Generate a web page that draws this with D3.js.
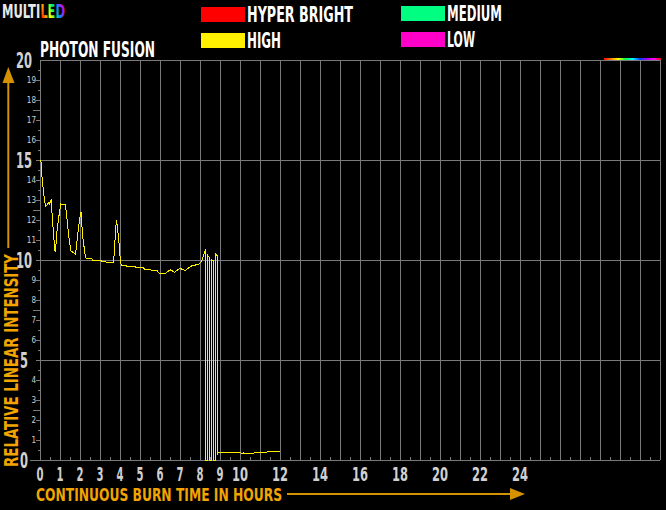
<!DOCTYPE html>
<html><head><meta charset="utf-8">
<script src="https://cdn.jsdelivr.net/npm/d3@7"></script>
<style>body{margin:0;background:#000;}svg{display:block;}</style>
</head><body>
<script>
// ---- data ----
const hours = [0.00,0.03,0.05,0.10,0.15,0.20,0.25,0.32,0.40,0.45,0.50,0.53,0.55,0.60,0.65,0.70,0.73,0.77,0.82,0.88,0.95,1.02,1.15,1.25,1.30,1.38,1.45,1.53,1.60,1.75,1.82,1.90,1.95,2.03,2.07,2.13,2.20,2.25,2.30,2.55,2.60,3.00,3.05,3.25,3.30,3.65,3.70,3.75,3.80,3.85,3.95,4.00,4.05,4.25,4.35,4.75,4.80,5.15,5.20,5.50,5.55,5.85,5.90,6.25,6.35,6.50,6.60,6.70,6.85,7.00,7.10,7.25,7.40,7.55,7.75,7.95,8.08,8.15,8.22,8.25,
  8.25,8.35,8.35,8.45,8.45,8.55,8.55,8.65,8.65,8.75,8.75,8.85,8.85,8.90,9.00,10.00,10.05,10.15,10.65,10.70,11.30,11.35,11.95];
const intensity = [15.0,14.9,14.4,13.9,13.4,13.0,12.7,12.75,12.85,12.8,12.95,13.0,12.7,12.0,11.35,10.7,10.4,10.7,11.4,11.9,12.4,12.8,12.78,12.75,12.3,11.5,10.9,10.45,10.4,10.3,10.9,11.6,12.0,12.4,11.7,11.0,10.5,10.15,10.08,10.08,10.0,10.0,9.95,9.95,9.88,9.88,10.5,11.5,12.0,11.6,10.6,9.85,9.75,9.72,9.68,9.65,9.62,9.6,9.55,9.55,9.48,9.45,9.35,9.33,9.42,9.5,9.45,9.38,9.5,9.58,9.52,9.48,9.6,9.7,9.75,9.8,10.0,10.2,10.45,10.5,
  0,0,10.25,10.1,0,0,10.0,9.95,0,0,10.3,10.2,0.3,0.37,0.37,0.37,0.33,0.35,0.32,0.36,0.37,0.42,0.42];
const xTickLabels = [0,1,2,3,4,5,6,7,8,9,10,12,14,16,18,20,22,24];
const yMajorTicks = [0,5,10,15,20];
const yMinorLabels = [1,2,3,4,6,7,8,9,11,12,13,14,16,17,18,19];
const legendNames = ["HYPER BRIGHT","HIGH","MEDIUM","LOW"];
const legendColors = ["#ff0000","#fff000","#00ff80","#ff00c8"];
const title = "PHOTON FUSION";
const xTitle = "CONTINUOUS BURN TIME IN HOURS";
const yTitle = "RELATIVE LINEAR INTENSITY";

// ---- layout ----
const W = 666, H = 510;
const x = d3.scaleLinear().domain([0,31]).range([40,660]);
const y = d3.scaleLinear().domain([0,20]).range([460,60]);
const FONT = "'DejaVu Sans Condensed','DejaVu Sans',sans-serif";
const grid = "#7a7a7a", lab = "#d0d0d0", orange = "#f2a400", arrowC = "#d59200";

const svg = d3.select("body").append("svg").attr("width",W).attr("height",H).style("background","#000");
const defs = svg.append("defs");
const rb = ["#ff0000","#ff8000","#ffff00","#00ff40","#00ffff","#0040ff","#a000ff","#ff00ff","#ff0000"];
const g1 = defs.append("linearGradient").attr("id","rainbow").attr("x1","0%").attr("x2","100%");
rb.forEach((c,i)=>g1.append("stop").attr("offset",(i/(rb.length-1)*100)+"%").attr("stop-color",c));
const g2 = defs.append("linearGradient").attr("id","ledgrad").attr("gradientUnits","userSpaceOnUse")
  .attr("x1",40).attr("y1",14).attr("x2",66).attr("y2",6);
["#ff0000","#ff9900","#ffff00","#00ff60","#0090ff","#a020ff","#ff0060"].forEach((c,i,a)=>g2.append("stop").attr("offset",(i/(a.length-1)*100)+"%").attr("stop-color",c));

// logo (single text element with two coloured parts)
const logo = svg.append("text").attr("x",2).attr("y",17.5).attr("font-family",FONT).attr("font-weight","bold").attr("font-size",19)
  .attr("textLength",63).attr("lengthAdjust","spacingAndGlyphs");
logo.append("tspan").attr("fill","#e8e8e8").text("MULTI");
logo.append("tspan").attr("fill","url(#ledgrad)").text("LED");

// legend
const legPos = [[201,7],[201,33],[401,6],[401,32]];
const legLen = [106,34,55,28];
legendNames.forEach((n,i)=>{
  const [lx,ly] = legPos[i];
  svg.append("rect").attr("x",lx).attr("y",ly).attr("width",44).attr("height",15).attr("fill",legendColors[i]);
  svg.append("text").attr("x",lx+46).attr("y",ly+15).attr("font-family",FONT).attr("font-weight","bold").attr("font-size",20.5)
    .attr("fill","#ffffff").attr("textLength",legLen[i]).attr("lengthAdjust","spacingAndGlyphs").text(n);
});

// title
svg.append("text").attr("x",40).attr("y",57).attr("font-family",FONT).attr("font-weight","bold").attr("font-size",21)
  .attr("fill","#ffffff").attr("textLength",115).attr("lengthAdjust","spacingAndGlyphs").text(title);

// grid
const gg = svg.append("g").attr("stroke",grid).attr("stroke-width",1).attr("shape-rendering","crispEdges");
d3.range(0,32).forEach(h=>gg.append("line").attr("x1",x(h)).attr("x2",x(h)).attr("y1",y(20)).attr("y2",y(0)));
yMajorTicks.forEach(v=>gg.append("line").attr("x1",v===0?30:x(0)).attr("x2",x(31)).attr("y1",y(v)).attr("y2",y(v)));
// y ticks
d3.range(0,40).forEach(i=>{
  const v = i/2; const isInt = i%2===0; const isHalfFive = (i%5===0)&&!isInt;
  const len = isHalfFive?7:(isInt?4:2);
  gg.append("line").attr("x1",x(0)-len).attr("x2",x(0)).attr("y1",y(v)).attr("y2",y(v));
});
// x minor ticks
d3.range(0,31).forEach(h=>gg.append("line").attr("x1",x(h+0.5)).attr("x2",x(h+0.5)).attr("y1",y(0)).attr("y2",y(0)-3));

// rainbow top-right line
svg.append("rect").attr("x",604).attr("y",58).attr("width",57).attr("height",2).attr("fill","url(#rainbow)");

// y labels
yMajorTicks.forEach(v=>{
  const s = String(v);
  svg.append("text").attr("x",24).attr("y",y(v)+7.5).attr("text-anchor","middle").attr("font-family",FONT).attr("font-weight","bold")
    .attr("font-size",21).attr("fill",lab).attr("textLength",s.length*8).attr("lengthAdjust","spacingAndGlyphs").text(s);
});
yMinorLabels.forEach(v=>{
  svg.append("text").attr("x",36).attr("y",y(v)+3).attr("text-anchor","end").attr("font-family",FONT)
    .attr("font-size",8).attr("fill",lab).text(v);
});

// x labels
xTickLabels.forEach(h=>{
  const s = String(h);
  svg.append("text").attr("x",x(h)).attr("y",481).attr("text-anchor","middle").attr("font-family",FONT).attr("font-weight","bold")
    .attr("font-size",19).attr("fill",lab).attr("textLength",s.length===1?7:16).attr("lengthAdjust","spacingAndGlyphs").text(s);
});

// axis titles
svg.append("text").attr("x",36).attr("y",500.5).attr("font-family",FONT).attr("font-weight","bold").attr("font-size",18.5)
  .attr("fill",orange).attr("textLength",246).attr("lengthAdjust","spacingAndGlyphs").text(xTitle);
svg.append("line").attr("x1",287).attr("x2",511).attr("y1",494).attr("y2",494).attr("stroke",arrowC).attr("stroke-width",2);
svg.append("path").attr("d","M510,488L525,494L510,500Z").attr("fill",arrowC);

svg.append("text").attr("transform","translate(18,467) rotate(-90)").attr("font-family",FONT).attr("font-weight","bold")
  .attr("font-size",19.5).attr("fill",orange).attr("textLength",213).attr("lengthAdjust","spacingAndGlyphs").text(yTitle);
svg.append("line").attr("x1",8.3).attr("x2",8.3).attr("y1",248).attr("y2",82).attr("stroke",arrowC).attr("stroke-width",2);
svg.append("path").attr("d","M2.5,83L8.3,67L14.5,83Z").attr("fill",arrowC);

// data line
const pts = hours.map((h,i)=>[h,intensity[i]]);
svg.append("path").datum(pts).attr("fill","none").attr("stroke","#fff000").attr("stroke-width",1)
  .attr("shape-rendering","crispEdges")
  .attr("d",d3.line().x(d=>x(d[0])+0.5).y(d=>y(d[1])));
</script>
</body></html>
